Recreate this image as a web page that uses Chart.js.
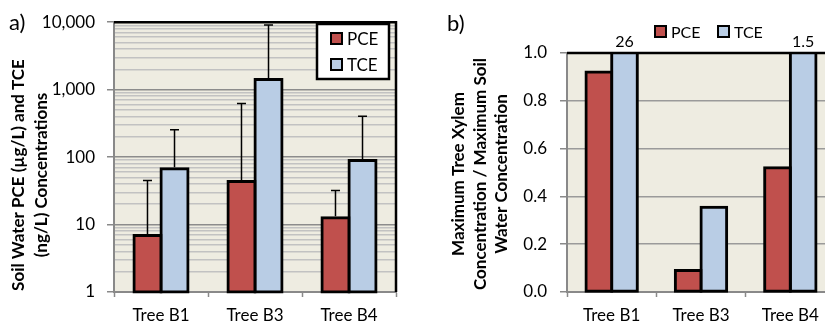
<!DOCTYPE html>
<html>
<head>
<meta charset="utf-8">
<script src="https://cdn.jsdelivr.net/npm/chart.js@4"></script>
<style>
    html, body { margin: 0; padding: 0; background: #fff; overflow: hidden; }
    #wrap { position: relative; width: 825px; height: 324px; overflow: hidden; }
    canvas { position: absolute; top: 0; }
</style>
</head>
<body>
<div id="wrap">
    <canvas id="soilChart" width="420" height="324" style="left:0"></canvas>
    <canvas id="ratioChart" width="430" height="324" style="left:420px"></canvas>
</div>
<script>
const trees = ['Tree B1', 'Tree B3', 'Tree B4'];

// a) soil water concentrations (log scale), upper error bar ends
const pceSoil = [6.9, 43.5, 12.6];
const tceSoil = [67, 1420, 89];
const pceSoilUpper = [45, 625, 32];
const tceSoilUpper = [255, 9100, 405];
const soilTicks = [1, 10, 100, 1000, 10000];
const soilTickLabels = ['1', '10', '100', '1,000', '10,000'];

// b) max xylem / max soil water ratio
const pceRatio = [0.92, 0.09, 0.52];
const tceRatio = [26, 0.355, 1.5];
const ratioTicks = [0, 0.2, 0.4, 0.6, 0.8, 1.0];

const FONT = 'Lato, "Open Sans", sans-serif';
const PCE_COLOR = '#C0504D';
const TCE_COLOR = '#B9CDE5';
const AXIS_GRAY = '#898989';

// plot background, black top/right frame, axis titles, panel tag
const plotFrame = {
    id: 'plotFrame',
    beforeDraw(chart) {
        const a = chart.chartArea, ctx = chart.ctx;
        ctx.save();
        ctx.fillStyle = '#EEECE1';
        ctx.fillRect(a.left, a.top, a.right - a.left, a.bottom - a.top);
        ctx.restore();
    },
    afterDraw(chart, args, opts) {
        const a = chart.chartArea, ctx = chart.ctx;
        ctx.save();
        ctx.strokeStyle = '#000';
        ctx.lineWidth = 2.5;
        ctx.beginPath();
        ctx.moveTo(a.left, a.top);
        ctx.lineTo(a.right, a.top);
        if (opts.rightEdge) ctx.lineTo(a.right, a.bottom);
        ctx.stroke();

        // rotated y title
        ctx.fillStyle = '#000';
        ctx.font = 'bold 17px ' + FONT;
        ctx.textAlign = 'center';
        ctx.textBaseline = 'middle';
        opts.title.lines.forEach((line, i) => {
            ctx.save();
            ctx.translate(opts.title.x[i], opts.title.y);
            ctx.rotate(-Math.PI / 2);
            ctx.fillText(line, 0, 0);
            ctx.restore();
        });

        ctx.font = '22px ' + FONT;
        ctx.textAlign = 'left';
        ctx.fillText(opts.tag.text, opts.tag.x, opts.tag.y);
        ctx.restore();
    }
};

// upward error bars with caps
const errorBars = {
    id: 'errorBars',
    afterDatasetsDraw(chart) {
        const ctx = chart.ctx, yScale = chart.scales.y;
        ctx.save();
        ctx.strokeStyle = '#000';
        ctx.lineWidth = 1.5;
        chart.data.datasets.forEach((ds, di) => {
            if (!ds.errUpper) return;
            chart.getDatasetMeta(di).data.forEach((bar, i) => {
                const top = yScale.getPixelForValue(ds.errUpper[i]);
                ctx.beginPath();
                ctx.moveTo(bar.x, bar.y - 1.5);
                ctx.lineTo(bar.x, top);
                ctx.moveTo(bar.x - 4.5, top);
                ctx.lineTo(bar.x + 4.5, top);
                ctx.stroke();
            });
        });
        ctx.restore();
    }
};

// values beyond the axis maximum are written above the clipped bar
const overRange = {
    id: 'overRange',
    afterDraw(chart) {
        const ctx = chart.ctx, yScale = chart.scales.y, a = chart.chartArea;
        ctx.save();
        ctx.fillStyle = '#000';
        ctx.font = '16px ' + FONT;
        ctx.textAlign = 'center';
        ctx.textBaseline = 'middle';
        chart.data.datasets.forEach((ds, di) => {
            chart.getDatasetMeta(di).data.forEach((bar, i) => {
                if (ds.data[i] > yScale.max) ctx.fillText(String(ds.data[i]), bar.x, a.top - 11);
            });
        });
        ctx.restore();
    }
};

// hand-placed legend (boxed or plain)
const boxLegend = {
    id: 'boxLegend',
    afterDraw(chart, args, opts) {
        const ctx = chart.ctx;
        ctx.save();
        if (opts.box) {
            ctx.fillStyle = '#fff';
            ctx.fillRect(opts.box.x, opts.box.y, opts.box.w, opts.box.h);
            ctx.strokeStyle = '#000';
            ctx.lineWidth = 2.5;
            ctx.strokeRect(opts.box.x, opts.box.y, opts.box.w, opts.box.h);
        }
        ctx.font = opts.fontSize + 'px ' + FONT;
        ctx.textBaseline = 'middle';
        ctx.textAlign = 'left';
        chart.data.datasets.forEach((ds, i) => {
            const it = opts.items[i];
            ctx.fillStyle = ds.backgroundColor;
            ctx.fillRect(it.x, it.y, 11, 11);
            ctx.strokeStyle = '#000';
            ctx.lineWidth = 2;
            ctx.strokeRect(it.x, it.y, 11, 11);
            ctx.fillStyle = '#000';
            ctx.fillText(ds.label, it.x + 16, it.y + 6.5);
        });
        ctx.restore();
    }
};

function barDataset(label, data, color, extra) {
    return Object.assign({
        label: label,
        data: data,
        backgroundColor: color,
        borderColor: '#000',
        borderWidth: 3,
        borderSkipped: false,
        inflateAmount: 1.5,
        categoryPercentage: 0.575,
        barPercentage: 1.0,
        clip: { left: 5, top: 0, right: 5, bottom: 3 }
    }, extra || {});
}

function xAxis() {
    return {
        offset: true,
        grid: { offset: true, drawOnChartArea: false, drawTicks: true, tickLength: 5, tickColor: AXIS_GRAY, tickWidth: 1.5 },
        border: { color: AXIS_GRAY, width: 2 },
        ticks: { color: '#000', font: { family: FONT, size: 17 }, padding: 8 },
        afterFit(s) { s.height = 32; }
    };
}

new Chart(document.getElementById('soilChart'), {
    type: 'bar',
    data: {
        labels: trees,
        datasets: [
            barDataset('PCE', pceSoil, PCE_COLOR, { errUpper: pceSoilUpper }),
            barDataset('TCE', tceSoil, TCE_COLOR, { errUpper: tceSoilUpper })
        ]
    },
    options: {
        responsive: false,
        animation: false,
        layout: { padding: { top: 17, left: 0, right: 24, bottom: 0 } },
        plugins: {
            legend: { display: false },
            tooltip: { enabled: false },
            plotFrame: {
                rightEdge: true,
                title: { lines: ['Soil Water PCE (\u00b5g/L) and TCE', '(ng/L) Concentrations'], x: [19, 42], y: 175 },
                tag: { text: 'a)', x: 9, y: 23 }
            },
            boxLegend: {
                box: { x: 317, y: 24, w: 72, h: 55 },
                fontSize: 17,
                items: [{ x: 331, y: 33 }, { x: 331, y: 59 }]
            }
        },
        scales: {
            x: xAxis(),
            y: {
                type: 'logarithmic',
                min: 1,
                max: 10000,
                afterBuildTicks(s) {
                    const t = [];
                    soilTicks.forEach((d, i) => {
                        t.push({ value: d });
                        if (i < soilTicks.length - 1) {
                            for (let k = 2; k <= 9; k++) t.push({ value: d * k });
                        }
                    });
                    s.ticks = t;
                },
                ticks: {
                    autoSkip: false,
                    color: '#000',
                    font: { family: FONT, size: 17 },
                    padding: 12,
                    callback: v => {
                        const i = soilTicks.indexOf(v);
                        return i < 0 ? '' : soilTickLabels[i];
                    }
                },
                grid: {
                    color: c => soilTicks.includes(c.tick.value) ? '#8c8c8c' : '#c2c2c2',
                    lineWidth: 1.5,
                    tickLength: 7,
                    tickWidth: 1.5,
                    tickColor: c => soilTicks.includes(c.tick.value) ? AXIS_GRAY : 'rgba(0,0,0,0)'
                },
                border: { color: AXIS_GRAY, width: 2 },
                afterFit(s) { s.width = 114; }
            }
        }
    },
    plugins: [plotFrame, errorBars, boxLegend]
});

new Chart(document.getElementById('ratioChart'), {
    type: 'bar',
    data: {
        labels: trees,
        datasets: [
            barDataset('PCE', pceRatio, PCE_COLOR),
            barDataset('TCE', tceRatio, TCE_COLOR)
        ]
    },
    options: {
        responsive: false,
        animation: false,
        layout: { padding: { top: 53, left: 0, right: 15, bottom: 0 } },
        plugins: {
            legend: { display: false },
            tooltip: { enabled: false },
            plotFrame: {
                rightEdge: false,
                title: { lines: ['Maximum Tree Xylem', 'Concentration / Maximum Soil', 'Water Concentration'], x: [39, 61, 82], y: 174 },
                tag: { text: 'b)', x: 27, y: 24 }
            },
            boxLegend: {
                fontSize: 16,
                items: [{ x: 235, y: 26 }, { x: 298, y: 26 }]
            }
        },
        scales: {
            x: xAxis(),
            y: {
                min: 0,
                max: 1,
                afterBuildTicks(s) { s.ticks = ratioTicks.map(v => ({ value: v })); },
                ticks: {
                    color: '#000',
                    font: { family: FONT, size: 17 },
                    padding: 13,
                    callback: v => v.toFixed(1)
                },
                grid: { color: '#9a9a9a', lineWidth: 1.5, tickLength: 7, tickWidth: 1.5, tickColor: AXIS_GRAY },
                border: { color: AXIS_GRAY, width: 2 },
                afterFit(s) { s.width = 147; }
            }
        }
    },
    plugins: [plotFrame, overRange, boxLegend]
});
</script>
</body>
</html>
